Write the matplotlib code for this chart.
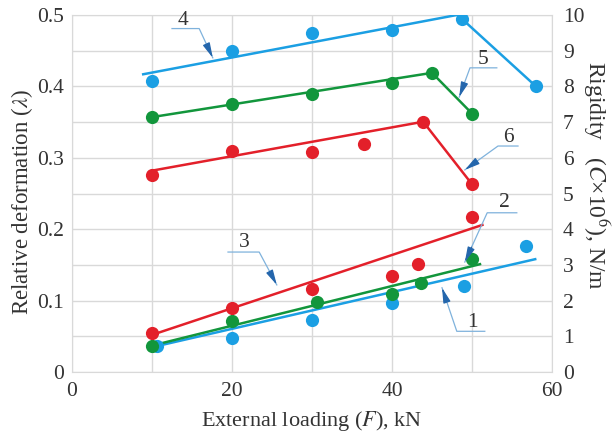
import matplotlib.pyplot as plt

# loading values (kN) and relative deformation for each test series
s1_x = [10.6, 20, 30, 40, 49, 56.7]
s1_y = [0.036, 0.047, 0.073, 0.096, 0.120, 0.176]
s1_fit_x = [10.5, 57.9]
s1_fit_y = [0.036, 0.158]

s2_x = [10, 20, 30.6, 40, 43.6, 50]
s2_y = [0.037, 0.071, 0.0985, 0.109, 0.124, 0.158]
s2_fit_x = [10, 51]
s2_fit_y = [0.037, 0.151]

s3_x = [10, 20, 30, 40, 43.3, 50]
s3_y = [0.054, 0.090, 0.116, 0.135, 0.151, 0.217]
s3_fit_x = [10, 51.3]
s3_fit_y = [0.052, 0.206]

# rigidity series, plotted on the same scale (0.05 per unit of right axis)
s4_x = [10, 20, 30, 40, 48.8, 58]
s4_y = [0.408, 0.450, 0.475, 0.479, 0.494, 0.400]
s4_fit_x = [8.9, 48.1]
s4_fit_y = [0.417, 0.500]

s5_x = [10, 20, 30, 40, 45, 50]
s5_y = [0.357, 0.375, 0.389, 0.405, 0.419, 0.362]
s5_fit_x = [10, 45]
s5_fit_y = [0.357, 0.419]

s6_x = [10, 20, 30, 36.5, 43.9, 50]
s6_y = [0.276, 0.3095, 0.308, 0.319, 0.3505, 0.263]
s6_fit_x = [10, 43.9]
s6_fit_y = [0.282, 0.3505]

x_ticks = [0, 20, 40, 60]
left_ticks = [0, 0.1, 0.2, 0.3, 0.4, 0.5]
left_labels = ["0", "0.1", "0.2", "0.3", "0.4", "0.5"]
right_ticks = list(range(0, 11))

# callout labels: (text, text pos, leader start, leader end, arrow tip)
callouts = [
    ("4", (13.9, 0.492), (12.5, 0.481), (15.9, 0.481), (17.6, 0.440)),
    ("5", (51.4, 0.437), (53.1, 0.426), (49.75, 0.426), (48.4, 0.385)),
    ("6", (54.5, 0.329), (55.75, 0.3165), (53.25, 0.3165), (49.1, 0.283)),
    ("2", (54.0, 0.237), (55.6, 0.223), (51.9, 0.223), (49.1, 0.154)),
    ("3", (21.5, 0.182), (19.5, 0.168), (23.4, 0.168), (25.6, 0.122)),
    ("1", (50.0, 0.069), (51.6, 0.057), (48.1, 0.057), (46.25, 0.118)),
]

blue = "#1b9fe3"
green = "#12963c"
red = "#e3202a"
grid_c = "#d9d9d9"
txt_c = "#333333"
fs = 15.5

plt.rcParams["font.family"] = ["Liberation Serif", "DejaVu Serif"]
plt.rcParams["mathtext.fontset"] = "stix"

fig = plt.figure(figsize=(6.13, 4.32), dpi=100)
ax = fig.add_axes([72 / 613, 1 - 372 / 432, 480 / 613, 357 / 432])

ax.set_xlim(0, 60)
ax.set_ylim(0, 0.5)
for sp in ax.spines.values():
    sp.set_color(grid_c)

# labelled ticks every 20 / 0.1, grid every 10 / 0.05 via minor ticks
ax.set_xticks(x_ticks)
ax.set_xticks([10, 30, 50], minor=True)
ax.set_yticks(left_ticks)
ax.set_yticklabels(left_labels)
ax.set_yticks([0.05, 0.15, 0.25, 0.35, 0.45], minor=True)
ax.grid(True, which="both", color=grid_c, lw=1)
ax.set_axisbelow(True)
ax.tick_params(which="both", length=0)
ax.tick_params(axis="x", labelsize=fs, pad=7, colors=txt_c)
ax.tick_params(axis="y", labelsize=fs, pad=6, colors=txt_c)

series = [
    (s1_x, s1_y, s1_fit_x, s1_fit_y, blue, False),
    (s2_x, s2_y, s2_fit_x, s2_fit_y, green, False),
    (s3_x, s3_y, s3_fit_x, s3_fit_y, red, False),
    (s4_x, s4_y, s4_fit_x, s4_fit_y, blue, True),
    (s5_x, s5_y, s5_fit_x, s5_fit_y, green, True),
    (s6_x, s6_y, s6_fit_x, s6_fit_y, red, True),
]
for xs, ys, fx, fy, c, drop in series:
    ax.plot(fx, fy, color=c, lw=1.8, zorder=3)
    if drop:
        # falling branch after the peak
        ax.plot(xs[-2:], ys[-2:], color=c, lw=1.8, zorder=3)
    ax.plot(xs, ys, "o", color=c, ms=9.5, mec="none", zorder=4)

for txt, tpos, p0, p1, tip in callouts:
    ax.text(tpos[0], tpos[1], txt, fontsize=fs, color=txt_c,
            ha="center", va="center", zorder=6)
    ax.plot([p0[0], p1[0], tip[0]], [p0[1], p1[1], tip[1]],
            color="#7fb2dc", lw=0.9, zorder=5)
    # dark arrow head near the tip
    bx = p1[0] + (tip[0] - p1[0]) * 0.7
    by = p1[1] + (tip[1] - p1[1]) * 0.7
    ax.annotate("", xy=tip, xytext=(bx, by),
                arrowprops=dict(arrowstyle="-|>,head_length=0.9,head_width=0.22",
                                color="#2466ac", lw=0.9, shrinkA=0, shrinkB=0),
                zorder=6)

ax.set_xlabel("External loading ($\\mathit{F}$), kN", fontsize=16,
              color=txt_c, labelpad=6)
fig.text(22 / 613, 1 - 202 / 432, "Relative deformation ($\\lambda$)",
         fontsize=16.5, color=txt_c, rotation=90, ha="center", va="center")

ax2 = ax.twinx()
ax2.set_ylim(0, 10)
ax2.set_yticks(right_ticks)
ax2.tick_params(length=0, labelsize=fs, pad=8, colors=txt_c)
for sp in ax2.spines.values():
    sp.set_visible(False)
fig.text(596 / 613, 1 - 175 / 432, "Rigidity   ($\\mathit{C}$×10$^6$), N/m",
         fontsize=17, color=txt_c, rotation=270, ha="center", va="center")

fig.savefig("out.png", dpi=100)
